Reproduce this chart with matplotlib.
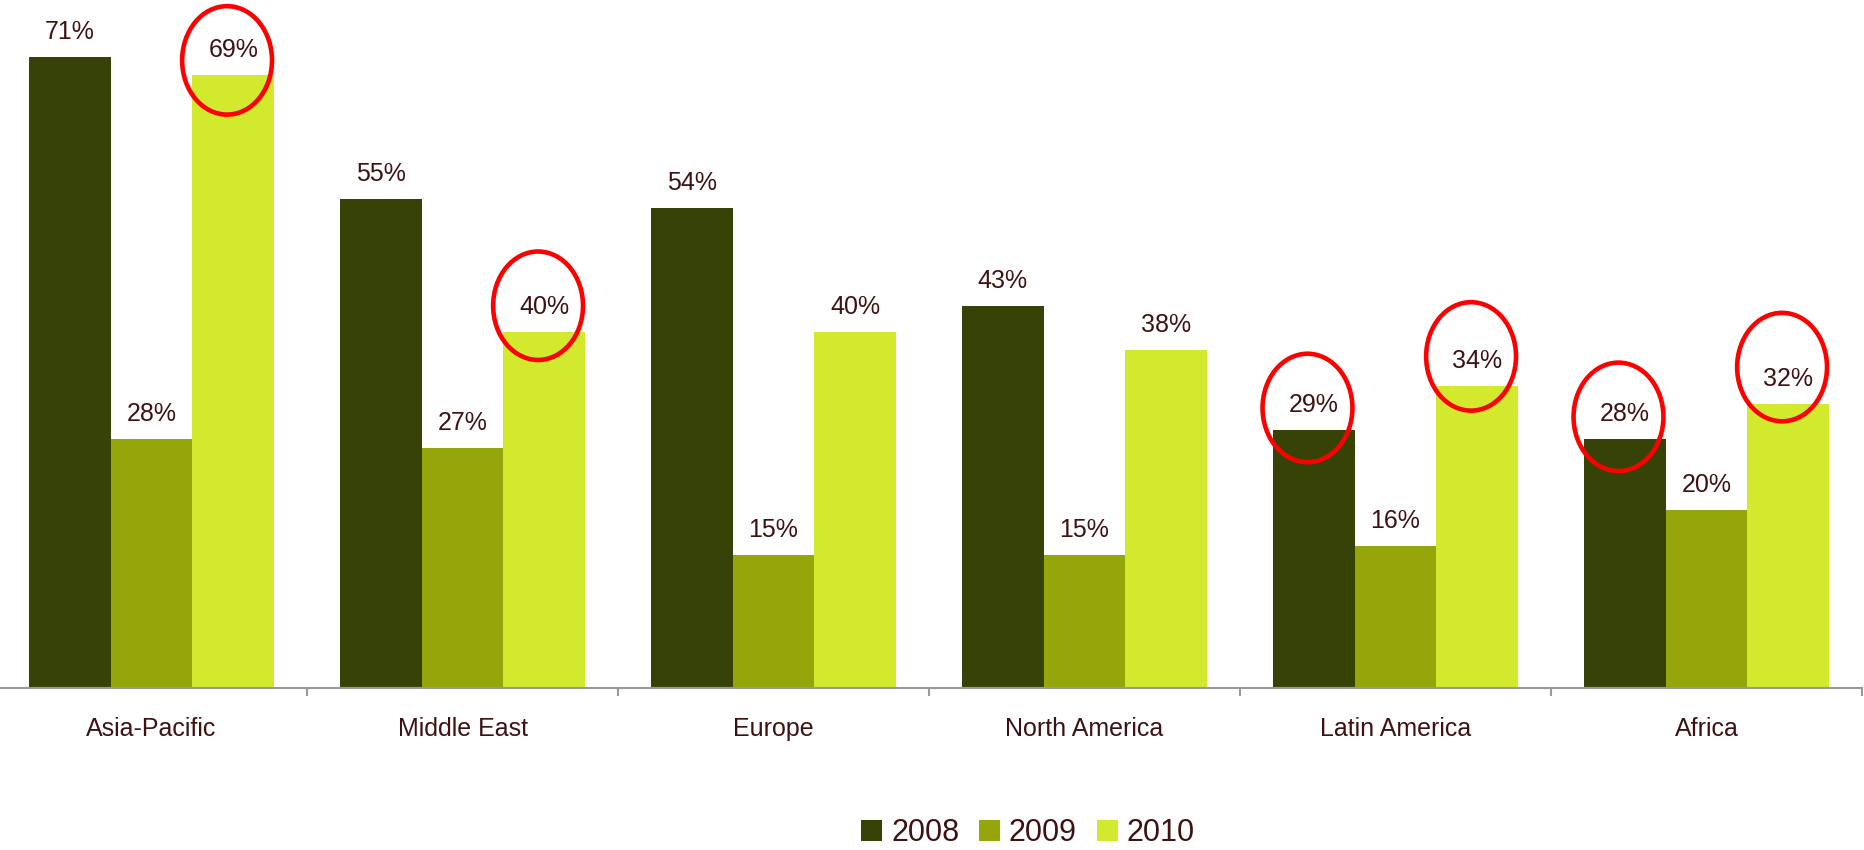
import matplotlib
matplotlib.use('Agg')
import matplotlib.pyplot as plt
import matplotlib.patches as mpatches
import numpy as np

# data
regions = ['Asia-Pacific', 'Middle East', 'Europe', 'North America', 'Latin America', 'Africa']
years = ['2008', '2009', '2010']
share2008 = [71, 55, 54, 43, 29, 28]
share2009 = [28, 27, 15, 15, 16, 20]
share2010 = [69, 40, 40, 38, 34, 32]
# highlighted bars: (region index, year index)
circled = [(0, 2), (1, 2), (4, 0), (4, 2), (5, 0), (5, 2)]

colours = ['#374207', '#94a60a', '#d2e92e']
textCol = '#3f1212'
plt.rcParams['font.family'] = ['Liberation Sans', 'DejaVu Sans']

fig = plt.figure(figsize=(18.64, 8.5), dpi=100)
# axes: baseline at 688 px from top, groups 311 px wide starting at x=-4
ax = fig.add_axes([-4 / 1864, 162 / 850, 1866 / 1864, 688 / 850])

x = np.arange(len(regions))
barW = 0.263
series = [share2008, share2009, share2010]
for k, vals in enumerate(series):
    xs = x + (k - 1) * barW
    ax.bar(xs, vals, width=barW, color=colours[k], label=years[k], zorder=2)
    for xi, v in zip(xs, vals):
        ax.annotate(f'{v}%', (xi, v), xytext=(0, 18), textcoords='offset points',
                    ha='center', va='center', fontsize=18, color=textCol, zorder=4)

# red circles round some labels (vertical offset tuned per mark)
ellipseDy = [1.6, 3.0, 2.5, 3.3, 2.5, 4.1]
for (gi, si), dy in zip(circled, ellipseDy):
    cx = x[gi] + (si - 1) * barW - 0.02
    cy = series[si][gi] + dy
    ax.add_patch(mpatches.Ellipse((cx, cy), 0.289, 12.2, fill=False,
                                  edgecolor='#ff0000', linewidth=3.3, zorder=5,
                                  clip_on=False))

ax.set_xlim(-0.5, len(regions) - 0.5)
ax.set_ylim(0, 688 / 8.89)

for s in ['top', 'right', 'left']:
    ax.spines[s].set_visible(False)
ax.spines['bottom'].set_color('#999999')
ax.spines['bottom'].set_linewidth(1.5)
ax.set_yticks([])
ax.set_xticks(x)
ax.set_xticklabels(regions, fontsize=18, color=textCol)
ax.tick_params(axis='x', which='major', length=0, pad=21)
ax.set_xticks(np.arange(len(regions) + 1) - 0.5, minor=True)
ax.tick_params(axis='x', which='minor', length=5.8, width=1.5, color='#999999')

fig.legend(loc='center', bbox_to_anchor=(0.5515, 0.02), ncol=3, frameon=False,
           fontsize=22, handlelength=0.68, handleheight=0.68, handletextpad=0.3,
           columnspacing=0.65, borderpad=0, labelcolor=textCol)

fig.savefig('out.png', dpi=100)
